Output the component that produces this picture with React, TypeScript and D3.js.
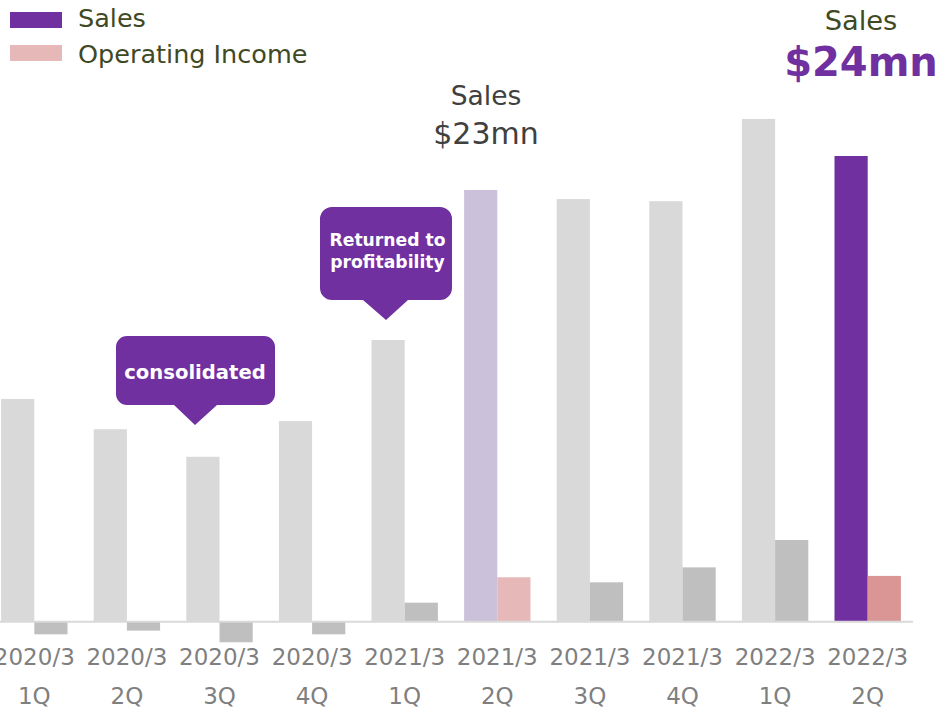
import React from "react";
import * as d3 from "d3";

const fiscalYears = ["2020/3", "2020/3", "2020/3", "2020/3", "2021/3", "2021/3", "2021/3", "2021/3", "2022/3", "2022/3"];
const quarters = ["1Q", "2Q", "3Q", "4Q", "1Q", "2Q", "3Q", "4Q", "1Q", "2Q"];
const salesValues = [11.48, 9.92, 8.5, 10.34, 14.52, 22.25, 21.78, 21.67, 25.91, 24.0];
const operatingIncomeValues = [-0.65, -0.46, -1.06, -0.65, 0.98, 2.29, 2.03, 2.8, 4.21, 2.36];
const seriesNames = ["Sales", "Operating Income"];

const W = 942;
const H = 712;
const FONT = "'DejaVu Sans', Verdana, sans-serif";

const PURPLE = "#7030a0";
const LIGHT_PURPLE = "#ccc1da";
const PINK = "#da9694";
const LIGHT_PINK = "#e6b9b8";
const GRAY = "#d9d9d9";
const DARK_GRAY = "#bfbfbf";

export default function App() {
  const keys = fiscalYears.map((fy, i) => `${fy} ${quarters[i]}`);
  const x = d3
    .scaleBand<string>()
    .domain(keys)
    .range([-12, 914])
    .paddingInner(0.283)
    .paddingOuter(0.1415);
  const xs = d3.scaleBand<string>().domain(seriesNames).range([0, x.bandwidth()]);
  const y = d3.scaleLinear().domain([0, 24]).range([621.7, 156]);

  const lastIdx = keys.length - 1;
  const prevIdx = 5;

  const salesFill = (i: number) => (i === lastIdx ? PURPLE : i === prevIdx ? LIGHT_PURPLE : GRAY);
  const oiFill = (i: number) => (i === lastIdx ? PINK : i === prevIdx ? LIGHT_PINK : DARK_GRAY);

  const bar = (v: number) => ({ top: Math.min(y(v), y(0)), h: Math.abs(y(v) - y(0)) });

  const callout = (
    x0: number,
    y0: number,
    x1: number,
    y1: number,
    r: number,
    bx0: number,
    bx1: number,
    tipX: number,
    tipY: number
  ) => {
    const p = d3.path();
    p.moveTo(x0 + r, y0);
    p.lineTo(x1 - r, y0);
    p.arcTo(x1, y0, x1, y0 + r, r);
    p.lineTo(x1, y1 - r);
    p.arcTo(x1, y1, x1 - r, y1, r);
    p.lineTo(bx1, y1);
    p.lineTo(tipX, tipY);
    p.lineTo(bx0, y1);
    p.lineTo(x0 + r, y1);
    p.arcTo(x0, y1, x0, y1 - r, r);
    p.lineTo(x0, y0 + r);
    p.arcTo(x0, y0, x0 + r, y0, r);
    p.closePath();
    return p.toString();
  };

  return (
    <svg
      width={W}
      height={H}
      viewBox={`0 0 ${W} ${H}`}
      style={{ position: "absolute", left: 0, top: 0, background: "#fff" }}
      fontFamily={FONT}
    >
      <rect x={0} y={0} width={W} height={H} fill="#fff" />
      {/* bars */}
      {keys.map((k, i) => {
        const s = bar(salesValues[i]);
        const o = bar(operatingIncomeValues[i]);
        const bx = x(k)!;
        return (
          <g key={k}>
            <rect x={bx + xs("Sales")!} y={s.top} width={xs.bandwidth()} height={s.h} fill={salesFill(i)} />
            <rect
              x={bx + xs("Operating Income")!}
              y={o.top}
              width={xs.bandwidth()}
              height={o.h}
              fill={oiFill(i)}
            />
          </g>
        );
      })}
      {/* baseline */}
      <line x1={0} x2={913} y1={y(0)} y2={y(0)} stroke="#d9d9d9" strokeWidth={2} />
      {/* category labels */}
      {keys.map((k, i) => {
        const cx = x(k)! + x.bandwidth() / 2;
        return (
          <g key={"l" + k} fill="#7f7f7f" fontSize={23} textAnchor="middle">
            <text x={cx} y={665}>{fiscalYears[i]}</text>
            <text x={cx} y={704}>{quarters[i]}</text>
          </g>
        );
      })}
      {/* legend */}
      <rect x={10} y={12} width={52} height={16} fill={PURPLE} />
      <rect x={10} y={45} width={52} height={16} fill={LIGHT_PINK} />
      <text x={78} y={27} fontSize={25.5} fill="#3f4a25">{seriesNames[0]}</text>
      <text x={78} y={63} fontSize={25.5} fill="#3f4a25">{seriesNames[1]}</text>
      {/* callouts */}
      <path d={callout(116, 336, 275, 405, 11, 174, 217, 195, 425)} fill={PURPLE} />
      <text x={195} y={378.5} fontSize={19.6} fontWeight="bold" fill="#fff" textAnchor="middle">
        consolidated
      </text>
      <path d={callout(320, 207, 452, 300, 12, 363, 408, 386, 320)} fill={PURPLE} />
      <text x={387.5} y={246} fontSize={17.2} fontWeight="bold" fill="#fff" textAnchor="middle">
        Returned to
      </text>
      <text x={387.5} y={268} fontSize={17.2} fontWeight="bold" fill="#fff" textAnchor="middle">
        profitability
      </text>
      {/* annotations */}
      <text x={486} y={105} fontSize={26.5} fill="#404040" textAnchor="middle">Sales</text>
      <text x={486} y={144} fontSize={30} fill="#404040" textAnchor="middle">$23mn</text>
      <text x={861} y={30} fontSize={27.3} fill="#3f4a25" textAnchor="middle">Sales</text>
      <text x={861} y={76} fontSize={40} fontWeight="bold" fill={PURPLE} textAnchor="middle">$24mn</text>
    </svg>
  );
}
